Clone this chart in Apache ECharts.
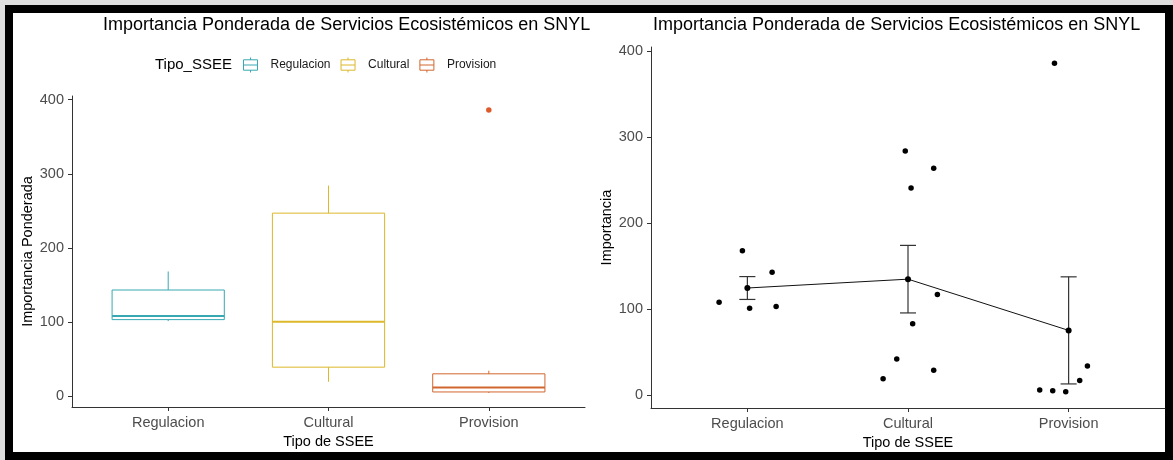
<!DOCTYPE html>
<html>
<head>
<meta charset="utf-8">
<script src="https://cdn.jsdelivr.net/npm/echarts@6/dist/echarts.min.js"></script>
<style>
  html, body { margin:0; padding:0; width:1173px; height:460px; background:#dedede; overflow:hidden; }
  #frame { position:absolute; left:5px; top:5px; width:1168px; height:455px; box-sizing:border-box; border:8px solid #000; background:#fff; }
  #chart { position:absolute; left:0; top:0; width:1173px; height:460px; }
</style>
</head>
<body>
<div id="frame"></div>
<div id="chart"></div>
<script>
const FONT = '"Liberation Sans", Arial, sans-serif';

const categories = ['Regulacion', 'Cultural', 'Provision'];
const boxColors = ['#38a8b3', '#dcb82a', '#d2662f'];
const yTicks = [0, 100, 200, 300, 400];

// cajas: min, Q1, mediana, Q3, max
const regBox = [101, 103, 108, 143, 168];
const culBox = [19, 38.8, 100, 246.8, 284];
const proBox = [4, 5.3, 11.5, 29.8, 34];
const proOutliers = [386];

// puntos con jitter (posicion x, importancia)
const regX = [0.824, 0.969, 1.014, 1.154, 1.179];
const regY = [108, 168, 101, 143, 103];
const culX = [1.983, 2.160, 2.019, 2.183, 2.029, 1.930, 1.845, 2.160];
const culY = [284, 264, 241, 117, 83, 42, 19, 29];
const proX = [2.912, 2.820, 2.901, 2.982, 3.069, 3.117];
const proY = [386, 6, 5, 4, 17, 34];

// media +/- error estandar
const means = [124.6, 134.9, 75.3];
const seLow = [111.3, 95.6, 13.0];
const seHigh = [137.9, 174.2, 137.6];

const chart = echarts.init(document.getElementById('chart'));

function xAxisFor(gi) {
  return {
    type: 'value', gridIndex: gi, min: 0.4, max: 3.6,
    name: 'Tipo de SSEE', nameLocation: 'middle', nameGap: 27,
    nameTextStyle: { color: '#000', fontSize: 14.5, fontFamily: FONT },
    axisLine: { show: true, onZero: false, lineStyle: { color: '#333', width: 1 } },
    axisTick: { show: true, customValues: [1, 2, 3], length: 4, lineStyle: { color: '#333' } },
    axisLabel: {
      customValues: [1, 2, 3], margin: 8, color: '#4d4d4d', fontSize: 14.5, fontFamily: FONT,
      formatter: v => categories[Math.round(v) - 1]
    },
    splitLine: { show: false }
  };
}

function yAxisFor(gi, name) {
  return {
    type: 'value', gridIndex: gi, min: -15, max: 405,
    name: name, nameLocation: 'middle', nameGap: 37,
    nameTextStyle: { color: '#000', fontSize: 14.5, fontFamily: FONT },
    axisLine: { show: true, onZero: false, lineStyle: { color: '#333', width: 1 } },
    axisTick: { show: true, customValues: yTicks, length: 4, lineStyle: { color: '#333' } },
    axisLabel: { customValues: yTicks, margin: 8, color: '#4d4d4d', fontSize: 14.5, fontFamily: FONT },
    splitLine: { show: false }
  };
}

function boxSeries(i, stats) {
  const color = boxColors[i];
  return {
    type: 'custom', name: categories[i], xAxisIndex: 0, yAxisIndex: 0,
    itemStyle: { color: color },
    data: [[i + 1].concat(stats)],
    encode: { x: 0, y: [1, 2, 3, 4, 5] },
    renderItem: function (params, api) {
      const x = api.value(0);
      const tl = api.coord([x - 0.35, api.value(4)]);
      const br = api.coord([x + 0.35, api.value(2)]);
      const mL = api.coord([x - 0.35, api.value(3)]);
      const mR = api.coord([x + 0.35, api.value(3)]);
      const wMin = api.coord([x, api.value(1)]);
      const wMax = api.coord([x, api.value(5)]);
      const ln = { stroke: color, lineWidth: 1, fill: null };
      return {
        type: 'group',
        children: [
          { type: 'line', shape: { x1: wMax[0], y1: wMax[1], x2: wMax[0], y2: tl[1] }, style: ln },
          { type: 'line', shape: { x1: wMin[0], y1: wMin[1], x2: wMin[0], y2: br[1] }, style: ln },
          { type: 'rect', shape: { x: tl[0], y: tl[1], width: br[0] - tl[0], height: br[1] - tl[1] },
            style: { fill: 'none', stroke: color, lineWidth: 1 } },
          { type: 'line', shape: { x1: mL[0], y1: mL[1], x2: mR[0], y2: mR[1] },
            style: { stroke: color, lineWidth: 2 } }
        ]
      };
    }
  };
}

// clave de leyenda estilo ggplot: caja con mediana y bigotes
const keyIcon = 'path://M7,0L7,2M0.5,2L13.5,2L13.5,11L0.5,11ZM0.5,6.5L13.5,6.5M7,11L7,13';

const points = [];
regX.forEach((x, k) => points.push([x, regY[k]]));
culX.forEach((x, k) => points.push([x, culY[k]]));
proX.forEach((x, k) => points.push([x, proY[k]]));

chart.setOption({
  animation: false,
  title: [
    { text: 'Importancia Ponderada de Servicios Ecosistémicos en SNYL', left: 103, top: 16, padding: 0,
      textStyle: { fontSize: 18, fontWeight: 'normal', color: '#000', fontFamily: FONT } },
    { text: 'Importancia Ponderada de Servicios Ecosistémicos en SNYL', left: 653, top: 16, padding: 0,
      textStyle: { fontSize: 18, fontWeight: 'normal', color: '#000', fontFamily: FONT } },
    { text: 'Tipo_SSEE', left: 155, top: 57, padding: 0,
      textStyle: { fontSize: 15, fontWeight: 'normal', color: '#000', fontFamily: FONT } }
  ],
  legend: {
    left: 243, top: 57, padding: 0,
    itemWidth: 14, itemHeight: 15, itemGap: 10,
    symbolKeepAspect: false,
    textStyle: { fontSize: 12, color: '#1a1a1a', fontFamily: FONT, padding: [0, 0, 0, 8] },
    data: categories.map((c, i) => ({
      name: c, icon: keyIcon,
      itemStyle: { color: 'transparent', borderColor: boxColors[i], borderWidth: 1 }
    }))
  },
  grid: [
    { left: 72, right: 588, top: 96, bottom: 53 },
    { left: 651, right: 8, top: 47, bottom: 52 }
  ],
  xAxis: [xAxisFor(0), xAxisFor(1)],
  yAxis: [yAxisFor(0, 'Importancia Ponderada'), yAxisFor(1, 'Importancia')],
  series: [
    boxSeries(0, regBox),
    boxSeries(1, culBox),
    boxSeries(2, proBox),
    {
      type: 'scatter', xAxisIndex: 0, yAxisIndex: 0, symbolSize: 5.5,
      itemStyle: { color: '#dd5a2b', opacity: 1 },
      data: proOutliers.map(v => [3, v])
    },
    {
      type: 'custom', xAxisIndex: 1, yAxisIndex: 1, z: 1,
      data: means.map((m, i) => [i + 1, seLow[i], seHigh[i]]),
      encode: { x: 0, y: [1, 2] },
      renderItem: function (params, api) {
        const x = api.value(0);
        const lo = api.coord([x, api.value(1)]);
        const hi = api.coord([x, api.value(2)]);
        const loL = api.coord([x - 0.05, api.value(1)]);
        const loR = api.coord([x + 0.05, api.value(1)]);
        const hiL = api.coord([x - 0.05, api.value(2)]);
        const hiR = api.coord([x + 0.05, api.value(2)]);
        const st = { stroke: '#333', lineWidth: 1.2 };
        return {
          type: 'group',
          children: [
            { type: 'line', shape: { x1: lo[0], y1: lo[1], x2: hi[0], y2: hi[1] }, style: st },
            { type: 'line', shape: { x1: loL[0], y1: loL[1], x2: loR[0], y2: loR[1] }, style: st },
            { type: 'line', shape: { x1: hiL[0], y1: hiL[1], x2: hiR[0], y2: hiR[1] }, style: st }
          ]
        };
      }
    },
    {
      type: 'line', xAxisIndex: 1, yAxisIndex: 1, z: 2,
      symbol: 'circle', symbolSize: 6,
      itemStyle: { color: '#000', opacity: 1 },
      lineStyle: { color: '#111', width: 1 },
      data: means.map((m, i) => [i + 1, m])
    },
    {
      type: 'scatter', xAxisIndex: 1, yAxisIndex: 1, z: 3, symbolSize: 5.5,
      itemStyle: { color: '#000', opacity: 1 },
      data: points
    }
  ]
});
</script>
</body>
</html>
